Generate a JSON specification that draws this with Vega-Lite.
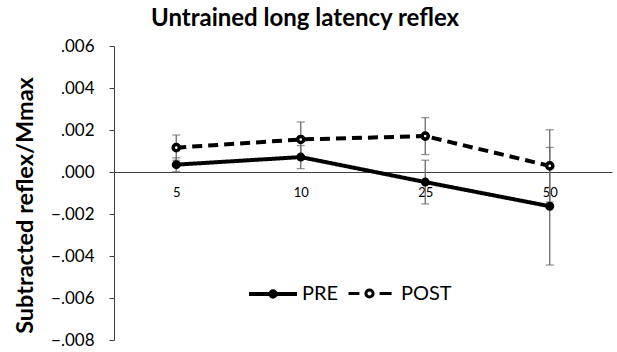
{
  "$schema": "https://vega.github.io/schema/vega-lite/v6.json",
  "width": 498,
  "height": 294,
  "autosize": {"type": "none"},
  "padding": {"left": 114, "top": 46, "right": 5, "bottom": 12},
  "background": "white",
  "title": {
    "text": "Untrained long latency reflex",
    "font": "Lato",
    "fontSize": 24,
    "fontWeight": "bold",
    "color": "black",
    "anchor": "middle",
    "dx": -58,
    "offset": 6
  },
  "data": {
    "values": [
      {"rate": "5", "series": "PRE", "v": 0.00035, "lo": 0.00002, "hi": 0.00068},
      {"rate": "10", "series": "PRE", "v": 0.00071, "lo": 0.00016, "hi": 0.00126},
      {"rate": "25", "series": "PRE", "v": -0.00048, "lo": -0.00152, "hi": 0.00056},
      {"rate": "50", "series": "PRE", "v": -0.00163, "lo": -0.00443, "hi": 0.00117},
      {"rate": "5", "series": "POST", "v": 0.00116, "lo": 0.00056, "hi": 0.00176},
      {"rate": "10", "series": "POST", "v": 0.00155, "lo": 0.00072, "hi": 0.00238},
      {"rate": "25", "series": "POST", "v": 0.00171, "lo": 0.00083, "hi": 0.00259},
      {"rate": "50", "series": "POST", "v": 0.00029, "lo": -0.00143, "hi": 0.00201}
    ]
  },
  "encoding": {
    "x": {
      "field": "rate",
      "type": "nominal",
      "sort": ["5", "10", "25", "50"],
      "scale": {"type": "point", "padding": 0.5},
      "axis": {
        "title": null,
        "orient": "bottom",
        "offset": -168,
        "ticks": false,
        "grid": false,
        "domainColor": "#404040",
        "domainWidth": 1,
        "labelAngle": 0,
        "labelFont": "Lato",
        "labelFontSize": 13,
        "labelColor": "black",
        "labelPadding": 14
      }
    }
  },
  "layer": [
    {
      "mark": {
        "type": "errorbar",
        "ticks": {"size": 8, "thickness": 1.3, "color": "#6a6a6a"},
        "rule": {"color": "#6a6a6a", "strokeWidth": 1.3}
      },
      "encoding": {
        "y": {
          "field": "lo",
          "type": "quantitative",
          "title": "Subtracted reflex/Mmax",
          "scale": {"domain": [-0.008, 0.006], "nice": false, "zero": false},
          "axis": {
            "values": [-0.008, -0.006, -0.004, -0.002, 0, 0.002, 0.004, 0.006],
            "labelExpr": "replace(format(datum.value, '.3f'), '0.', '.')",
            "grid": false,
            "domainColor": "#404040",
            "tickColor": "#404040",
            "tickSize": 5,
            "labelPadding": 15,
            "labelFont": "Lato",
            "labelFontSize": 17,
            "labelColor": "black",
            "titleFont": "Lato",
            "titleFontSize": 23.5,
            "titleFontWeight": "bold",
            "titleColor": "black",
            "titleAngle": -90,
            "titleBaseline": "middle",
            "titleAlign": "center",
            "titleX": -89,
            "titleY": 159
          }
        },
        "y2": {"field": "hi"}
      }
    },
    {
      "mark": {"type": "line", "color": "black", "strokeWidth": 4},
      "encoding": {
        "y": {"field": "v", "type": "quantitative", "title": "Subtracted reflex/Mmax"},
        "detail": {"field": "series"},
        "strokeDash": {
          "field": "series",
          "type": "nominal",
          "scale": {"domain": ["PRE", "POST"], "range": [[1, 0], [10, 6]]},
          "legend": null
        }
      }
    },
    {
      "mark": {"type": "point", "filled": false, "stroke": "black", "opacity": 1},
      "encoding": {
        "y": {"field": "v", "type": "quantitative", "title": "Subtracted reflex/Mmax"},
        "fill": {
          "field": "series",
          "type": "nominal",
          "scale": {"domain": ["POST", "PRE"], "range": ["white", "black"]},
          "legend": {
            "title": null,
            "orient": "none",
            "legendX": 230,
            "legendY": 222,
            "padding": 0,
            "values": ["POST"],
            "symbolType": "M-0.875,0H-0.42M0.42,0H0.92M0.15,0A0.15,0.15,0,1,1,-0.15,0A0.15,0.15,0,1,1,0.15,0Z",
            "symbolSize": 2304,
            "symbolStrokeColor": "black",
            "symbolStrokeWidth": 3,
            "symbolOpacity": 1,
            "labelFont": "Lato",
            "labelFontSize": 20,
            "labelColor": "black",
            "labelOffset": 6
          }
        },
        "size": {
          "field": "series",
          "type": "nominal",
          "scale": {"domain": ["PRE", "POST", "x"], "range": [25, 50, 50]},
          "legend": null
        },
        "strokeWidth": {
          "field": "series",
          "type": "nominal",
          "scale": {"domain": ["PRE", "POST", "z"], "range": [4, 3, 3]},
          "legend": {
            "title": null,
            "orient": "none",
            "legendX": 133,
            "legendY": 222,
            "padding": 0,
            "values": ["PRE"],
            "symbolType": "M-1,0H1M0.11,0A0.11,0.11,0,1,1,-0.11,0A0.11,0.11,0,1,1,0.11,0Z",
            "symbolSize": 2304,
            "symbolFillColor": "black",
            "symbolStrokeColor": "black",
            "symbolOpacity": 1,
            "labelFont": "Lato",
            "labelFontSize": 20,
            "labelColor": "black",
            "labelOffset": 3
          }
        }
      }
    }
  ],
  "config": {
    "view": {"stroke": null},
    "point": {"fillOpacity": 1}
  }
}
